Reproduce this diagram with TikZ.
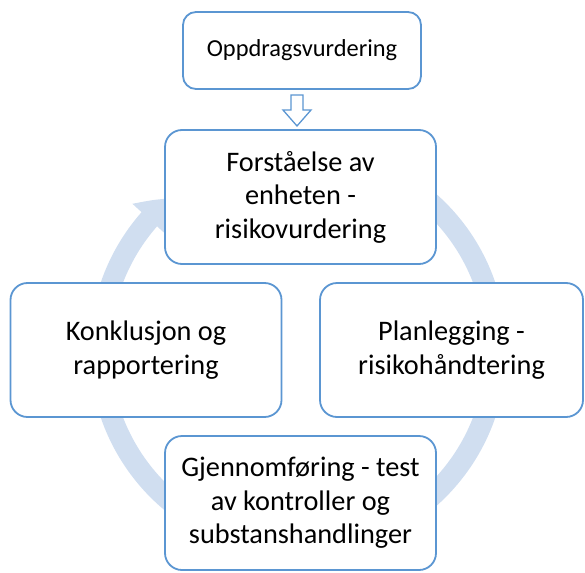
\documentclass[tikz,border=0pt]{standalone}
\usepackage{fontspec}
\setmainfont{Carlito}
\usetikzlibrary{arrows.meta,bending}
\definecolor{boxblue}{RGB}{91,150,210}
\definecolor{ringblue}{RGB}{208,222,240}
\begin{document}
\begin{tikzpicture}[x=1pt,y=-1pt,
  stagebox/.style={draw=boxblue,line width=1.8pt,fill=white,rounded corners=17pt,
    align=center,font=\fontsize{28.3}{33.5}\selectfont,inner sep=0pt},
  topbox/.style={draw=boxblue,line width=1.8pt,fill=white,rounded corners=13pt,
    align=center,font=\fontsize{24.4}{28}\selectfont,inner sep=0pt},
  blockarrow/.style={draw=boxblue,line width=1.3pt,fill=white,line join=miter}]
\useasboundingbox (0,0) rectangle (585,572);
% ring
\draw[ringblue,line width=21pt,-{Triangle[width=44pt,length=30pt,bend]}]
  (298,350) ++(-50:198) arc[start angle=-50,end angle=230,radius=198];
% boxes
\node[topbox,minimum width=238pt,minimum height=77pt] (top) at (302,50.5) {Oppdragsvurdering};
\node[stagebox,minimum width=271pt,minimum height=134pt] (forst) at (300.5,197) {Forståelse av\\enheten -\\risikovurdering};
\node[stagebox,minimum width=271pt,minimum height=134pt] (konk) at (146,350) {Konklusjon og\\rapportering};
\node[stagebox,minimum width=263pt,minimum height=134pt] (plan) at (451.5,350) {Planlegging -\\risikohåndtering};
\node[stagebox,minimum width=271pt,minimum height=134pt] (gjen) at (300.5,503) {Gjennomføring - test\\av kontroller og\\substanshandlinger};
% hollow down arrow
\draw[blockarrow]
  (291,95) -- (303,95) -- (303,110) -- (311,110) -- (297,126) -- (283,110) -- (291,110) -- cycle;
\end{tikzpicture}
\end{document}
